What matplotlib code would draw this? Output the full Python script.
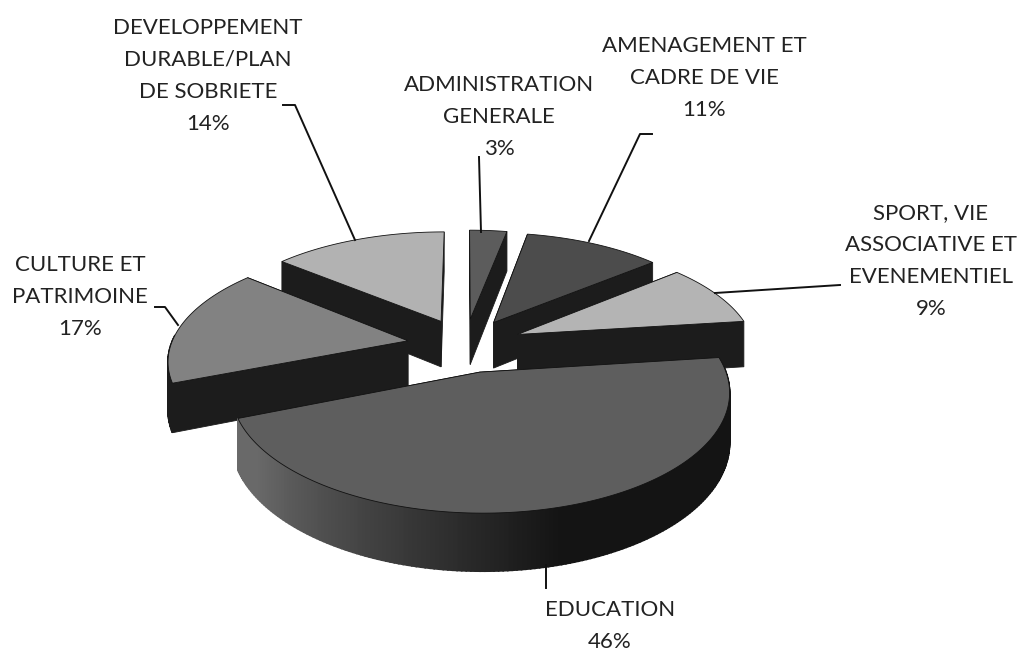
import numpy as np
import matplotlib
matplotlib.use("Agg")
import matplotlib.pyplot as plt

categories = ["ADMINISTRATION\nGENERALE", "AMENAGEMENT ET\nCADRE DE VIE",
              "SPORT, VIE\nASSOCIATIVE ET\nEVENEMENTIEL", "EDUCATION",
              "CULTURE ET\nPATRIMOINE", "DEVELOPPEMENT\nDURABLE/PLAN\nDE SOBRIETE"]
values = [3, 11, 9, 46, 17, 14]
top_colors = ["#5c5c5c", "#4c4c4c", "#b4b4b4", "#5e5e5e", "#828282", "#b2b2b2"]
draw_order = [0, 1, 5, 2, 4, 3]  # back to front

# label centres and leader lines, in image pixels
label_xy = [(499, 75), (704, 36), (931, 203), (610, 600), (80, 255), (208, 18)]
leaders = [[(481, 232), (479, 157)],
           [(589, 241), (640, 134), (652, 134)],
           [(715, 293), (840, 285)],
           [(546, 565), (546, 588)],
           [(178, 325), (165, 307), (155, 307)],
           [(355, 240), (295, 105), (283, 105)]]

# projection of the pie plane onto the image
CX, CY = 465, 345
RX, RY = 237, 110
PERSP = 0.154
EXPLODE = 0.245
DEPTH = 47


def project(x, y, z=0.0):
    s = 1 / (1 + PERSP * y)
    return CX + RX * x * s, CY - RY * y * s + DEPTH * z * s


def wall_shade(theta):
    # outer wall goes from black at the front to grey on the left
    t = np.clip((np.degrees(theta) - 165) / 70, 0, 1)
    return str(round(0.08 + 0.33 * t, 3))


fig = plt.figure(figsize=(10.2, 6.52), dpi=100)
ax = fig.add_axes([0, 0, 1, 1])
ax.set_xlim(0, 1020)
ax.set_ylim(652, 0)
ax.axis("off")

edges = np.radians(np.cumsum([0] + values) * 3.6)

for i in draw_order:
    a0, a1 = edges[i], edges[i + 1]
    mid = (a0 + a1) / 2
    ox, oy = EXPLODE * np.sin(mid), EXPLODE * np.cos(mid)
    th = np.linspace(a0, a1, max(int(values[i] * 4), 8))
    xs = ox + np.sin(th)
    ys = oy + np.cos(th)

    # radial cut faces
    for a in (a0, a1):
        qx = np.array([ox, ox + np.sin(a), ox + np.sin(a), ox])
        qy = np.array([oy, oy + np.cos(a), oy + np.cos(a), oy])
        px, py = project(qx, qy, np.array([0, 0, 1, 1]))
        ax.fill(px, py, color="#1c1c1c", lw=0.6, zorder=2)

    # outer wall, only the part facing the viewer
    for j in range(len(th) - 1):
        if np.cos(th[j]) > 0.05:
            continue
        qx = np.array([xs[j], xs[j + 1], xs[j + 1], xs[j]])
        qy = np.array([ys[j], ys[j + 1], ys[j + 1], ys[j]])
        px, py = project(qx, qy, np.array([0, 0, 1, 1]))
        shade = wall_shade(th[j]) if values[i] == max(values) else "#1c1c1c"
        ax.fill(px, py, color=shade, lw=1.2, zorder=2)

    # top face
    px, py = project(np.r_[ox, xs], np.r_[oy, ys])
    ax.fill(px, py, facecolor=top_colors[i], edgecolor="#111111", lw=0.6, zorder=2)

for i, name in enumerate(categories):
    ax.text(label_xy[i][0], label_xy[i][1], f"{name}\n{values[i]}%", family="Lato",
            fontsize=16, color="#222222", ha="center", va="top", linespacing=1.75)

for line in leaders:
    ax.plot(*zip(*line), color="#111111", lw=1.4, zorder=3)

fig.savefig("out.png", dpi=100)
